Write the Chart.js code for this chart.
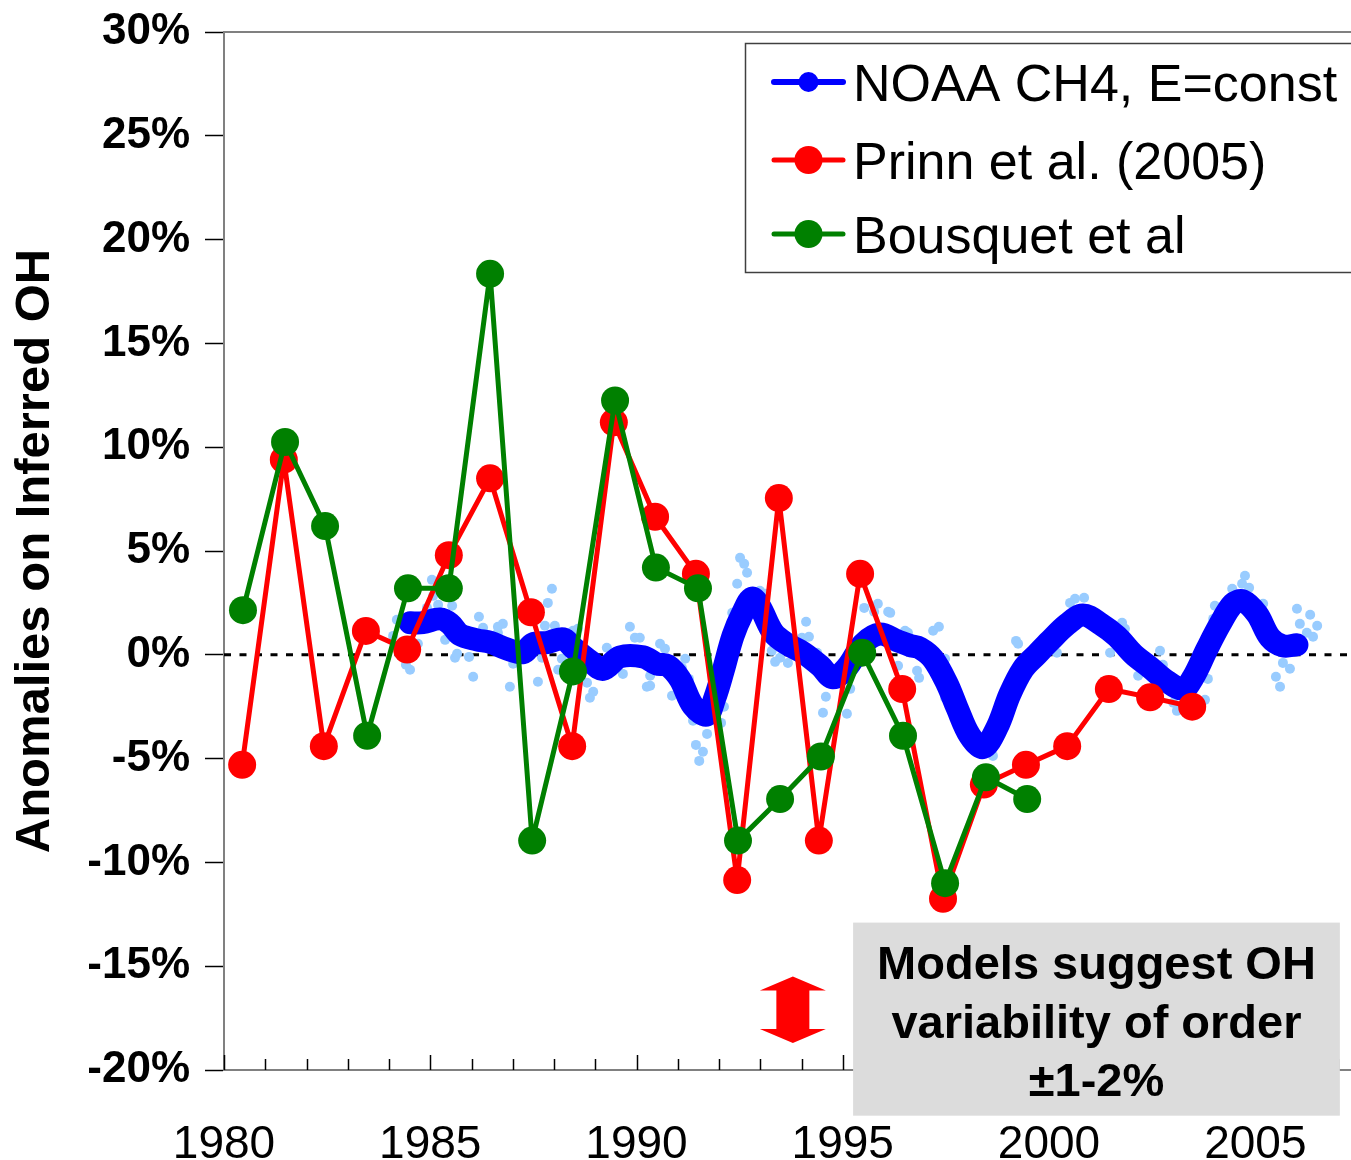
<!DOCTYPE html>
<html>
<head>
<meta charset="utf-8">
<script src="https://cdn.jsdelivr.net/npm/chart.js@4.4.1/dist/chart.umd.min.js"></script>
<style>
  html, body { margin: 0; padding: 0; background: #fff; overflow: hidden; }
  canvas { display: block; }
</style>
</head>
<body>
<canvas id="ohChart" width="1351" height="1160"></canvas>
<script>
// ---- data ----
var prinnYears = [1980.44, 1981.45, 1982.42, 1983.44, 1984.44, 1985.45, 1986.45, 1987.44, 1988.44, 1989.45, 1990.45, 1991.44,
                  1992.44, 1993.45, 1994.42, 1995.42, 1996.44, 1997.43, 1998.42, 1999.44, 2000.44, 2001.45, 2002.45, 2003.47];
var prinnValues = [-5.3, 9.4, -4.4, 1.15, 0.25, 4.8, 8.5, 2.05, -4.4, 11.2, 6.65, 3.9,
                   -10.85, 7.55, -8.95, 3.9, -1.65, -11.75, -6.25, -5.3, -4.4, -1.65, -2.05, -2.5];

var bousquetYears = [1980.46, 1981.48, 1982.45, 1983.47, 1984.46, 1985.45, 1986.45, 1987.47, 1988.46, 1989.48,
                     1990.47, 1991.49, 1992.46, 1993.48, 1994.47, 1995.47, 1996.46, 1997.48, 1998.47, 1999.47];
var bousquetValues = [2.15, 10.25, 6.2, -3.9, 3.2, 3.2, 18.35, -8.95, -0.8, 12.25,
                      4.2, 3.2, -8.95, -6.95, -4.9, 0.1, -3.9, -11.0, -5.9, -6.95];

// NOAA CH4 (E=const), smoothed curve
var noaaYears = [1984.51, 1984.82, 1985.24, 1985.48, 1985.72, 1986.13, 1986.45, 1986.86, 1987.25, 1987.49, 1987.83, 1988.22,
                 1988.46, 1988.87, 1989.19, 1989.6, 1990.16, 1990.5, 1990.74, 1991.05, 1991.37, 1991.71, 1991.9, 1992.1,
                 1992.34, 1992.58, 1992.8, 1992.99, 1993.31, 1993.65, 1994.04, 1994.45, 1994.76, 1995.1, 1995.49, 1995.9,
                 1996.32, 1996.63, 1996.87, 1997.19, 1997.53, 1997.77, 1998.08, 1998.4, 1998.74, 1999.05, 1999.37, 1999.71,
                 2000.02, 2000.44, 2000.82, 2001.24, 2001.65, 2002.04, 2002.45, 2002.86, 2003.25, 2003.49, 2003.83, 2004.15,
                 2004.46, 2004.7, 2005.04, 2005.36, 2005.67, 2006.01];
var noaaValues = [1.54, 1.55, 1.73, 1.5, 0.97, 0.72, 0.6, 0.28, 0.1, 0.53, 0.59, 0.77,
                  0.35, -0.3, -0.7, -0.1, -0.1, -0.45, -0.5, -1.16, -2.46, -2.9, -2.07, -0.77,
                  0.92, 2.04, 2.73, 2.31, 1.07, 0.52, 0.1, -0.53, -1.11, -0.61, 0.52, 1.0,
                  0.68, 0.45, 0.32, -0.2, -1.4, -2.55, -3.9, -4.47, -3.5, -1.9, -0.68, 0.03,
                  0.67, 1.47, 1.92, 1.5, 0.88, 0.03, -0.61, -1.28, -1.65, -1.1, 0.28, 1.49,
                  2.45, 2.6, 1.97, 0.82, 0.43, 0.48];

// NOAA monthly raw values (light blue dots)
var rawYears = [1984.10, 1984.19, 1984.41, 1984.51, 1984.70, 1984.92, 1985.04, 1985.07, 1985.19, 1985.36, 1985.53, 1985.60,
                1985.65, 1985.94, 1986.04, 1986.18, 1986.28, 1986.64, 1986.64, 1986.76, 1986.93, 1987.01, 1987.61, 1987.71,
                1987.78, 1987.85, 1987.95, 1988.02, 1988.10, 1988.19, 1988.46, 1988.58, 1988.80, 1988.87, 1988.95, 1989.28,
                1989.67, 1989.84, 1989.96, 1990.08, 1990.25, 1990.33, 1990.33, 1990.57, 1990.69, 1990.86, 1991.10, 1991.18,
                1991.27, 1991.37, 1991.44, 1991.52, 1991.61, 1991.71, 1992.05, 1992.12, 1992.32, 1992.44, 1992.51, 1992.61,
                1992.68, 1992.99, 1993.12, 1993.28, 1993.36, 1993.48, 1993.67, 1994.01, 1994.11, 1994.18, 1994.38, 1994.52,
                1994.59, 1995.10, 1995.18, 1995.52, 1995.76, 1995.85, 1996.10, 1996.15, 1996.34, 1996.51, 1996.58, 1996.80,
                1996.85, 1997.19, 1997.33, 1997.48, 1997.48, 1998.64, 1999.20, 1999.25, 2000.19, 2000.51, 2000.63, 2000.85,
                2001.48, 2001.77, 2001.84, 2002.16, 2002.69, 2002.76, 2003.01, 2003.10, 2003.78, 2003.85, 2003.98, 2004.02,
                2004.44, 2004.68, 2004.75, 2004.85, 2005.19, 2005.50, 2005.60, 2005.67, 2005.84, 2006.01, 2006.08, 2006.25,
                2006.33, 2006.40, 2006.50];
var rawValues = [0.91, 1.69, -0.48, -0.72, 0.53, 2.26, 3.61, 2.84, 2.41, 0.72, 2.36, -0.14,
                 0.05, -0.10, -1.06, 1.83, 1.30, 1.35, 1.06, 1.49, -1.54, -0.43, -1.30, -0.14,
                 1.40, 2.50, 3.18, 1.40, -0.72, -0.19, 1.16, 1.25, -1.35, -2.07, -1.78, 0.34,
                 -0.92, 1.35, 0.82, 0.82, -1.54, -1.01, -1.49, 0.53, 0.29, -1.97, -0.63, -0.19,
                 -1.16, -3.18, -4.34, -5.11, -4.67, -3.81, -3.28, -2.50, 2.02, 3.42, 4.67, 4.38,
                 3.95, 3.08, 2.94, 0.19, -0.34, -0.14, -0.39, 0.82, 1.59, 0.87, 0.10, -2.79,
                 -2.02, -2.84, -1.64, 2.26, 2.07, 2.46, 2.07, 2.02, -0.53, 1.16, 1.06, -0.77,
                 -1.11, 1.16, 1.35, -0.19, -2.07, -4.87, 0.67, 0.53, 0.10, 2.50, 2.70, 2.75,
                 0.10, 1.54, 1.25, -1.01, 0.19, -0.48, -2.31, -2.70, -2.17, -1.16, 1.73, 2.36,
                 3.18, 3.42, 3.81, 3.23, 2.46, -1.06, -1.54, -0.39, -0.67, 2.22, 1.49, 1.06,
                 1.93, 0.87, 1.40];

var xTickYears = [];
for (var yr = 1980; yr <= 2007; yr++) { xTickYears.push(yr); }
var xLabelYears = [1980, 1985, 1990, 1995, 2000, 2005];
var yTickValues = [-20, -15, -10, -5, 0, 5, 10, 15, 20, 25, 30];

var legendNames = ["NOAA CH4, E=const", "Prinn et al. (2005)", "Bousquet et al"];
var boxLines = ["Models suggest OH", "variability of order", "\u00b11-2%"];

function toPoints(xs, ys) {
    var pts = [];
    for (var i = 0; i < xs.length; i++) { pts.push({ x: xs[i], y: ys[i] }); }
    return pts;
}

var FONT = "'Liberation Sans', Arial, sans-serif";
Chart.defaults.font.family = FONT;
Chart.defaults.color = "#000";

var decor = {
    id: 'decor',
    beforeDatasetsDraw: function (chart) {
        var ctx = chart.ctx, a = chart.chartArea, xs = chart.scales.x, ys = chart.scales.y;
        ctx.save();
        // top frame line
        ctx.strokeStyle = "#808080"; ctx.lineWidth = 2;
        ctx.beginPath(); ctx.moveTo(a.left, a.top); ctx.lineTo(a.right, a.top); ctx.stroke();
        // x ticks pointing inwards
        ctx.strokeStyle = "#000"; ctx.lineWidth = 1.5;
        xTickYears.forEach(function (v) {
            var px = Math.round(xs.getPixelForValue(v)) + 0.5;
            var len = (v % 5 === 0) ? 15 : 11;
            ctx.beginPath(); ctx.moveTo(px, a.bottom); ctx.lineTo(px, a.bottom - len); ctx.stroke();
        });
        // dashed zero line
        var y0 = ys.getPixelForValue(0);
        ctx.setLineDash([7, 8.5]); ctx.lineWidth = 3; ctx.strokeStyle = "#000";
        ctx.beginPath(); ctx.moveTo(a.left, y0); ctx.lineTo(a.right, y0); ctx.stroke();
        ctx.restore();
    },
    afterDraw: function (chart) {
        var ctx = chart.ctx, xs = chart.scales.x, ys = chart.scales.y;
        ctx.save();

        // legend box
        ctx.fillStyle = "#fff"; ctx.strokeStyle = "#404040"; ctx.lineWidth = 1.5;
        ctx.fillRect(745, 43, 700, 229); ctx.strokeRect(745.5, 43.5, 700, 229);
        var rows = [82, 160, 234];
        var cols = ["#0000FF", "#FF0000", "#008000"];
        var rad = [10, 14, 14];
        for (var i = 0; i < 3; i++) {
            ctx.strokeStyle = cols[i]; ctx.lineWidth = (i === 0) ? 6 : 5; ctx.lineCap = "round";
            ctx.beginPath(); ctx.moveTo(774, rows[i]); ctx.lineTo(843, rows[i]); ctx.stroke();
            ctx.fillStyle = cols[i];
            ctx.beginPath(); ctx.arc(808.5, rows[i], rad[i], 0, Math.PI * 2); ctx.fill();
            ctx.fillStyle = "#000"; ctx.font = "52px " + FONT; ctx.textAlign = "left"; ctx.textBaseline = "alphabetic";
            ctx.fillText(legendNames[i], 853, rows[i] + 19);
        }

        // red double arrow
        var cx = xs.getPixelForValue(1993.79);
        var yT = ys.getPixelForValue(-15.5), yB = ys.getPixelForValue(-18.7);
        ctx.fillStyle = "#FF0000";
        ctx.beginPath();
        ctx.moveTo(cx, yT); ctx.lineTo(cx + 33, yT + 14); ctx.lineTo(cx + 16.5, yT + 14);
        ctx.lineTo(cx + 16.5, yB - 14); ctx.lineTo(cx + 33, yB - 14); ctx.lineTo(cx, yB);
        ctx.lineTo(cx - 33, yB - 14); ctx.lineTo(cx - 16.5, yB - 14); ctx.lineTo(cx - 16.5, yT + 14);
        ctx.lineTo(cx - 33, yT + 14); ctx.closePath(); ctx.fill();

        // grey note box
        var bx0 = xs.getPixelForValue(1995.25), bx1 = xs.getPixelForValue(2007.05);
        var by0 = ys.getPixelForValue(-12.9), by1 = ys.getPixelForValue(-22.2);
        ctx.fillStyle = "#DCDCDC";
        ctx.fillRect(bx0, by0, bx1 - bx0, by1 - by0);
        ctx.fillStyle = "#000"; ctx.font = "bold 47px " + FONT; ctx.textAlign = "center";
        var mid = (bx0 + bx1) / 2;
        ctx.fillText(boxLines[0], mid, by0 + 56);
        ctx.fillText(boxLines[1], mid, by0 + 115);
        ctx.fillText(boxLines[2], mid, by0 + 173);
        ctx.restore();
    }
};

var ctx = document.getElementById('ohChart');
var chart = new Chart(ctx, {
    type: 'line',
    data: {
        datasets: [
            { label: "raw", data: toPoints(rawYears, rawValues), showLine: false, pointRadius: 5,
              pointBackgroundColor: "#99CCFF", pointBorderWidth: 0, order: 4 },
            { label: legendNames[0], data: toPoints(noaaYears, noaaValues), borderColor: "#0000FF", borderWidth: 23,
              borderCapStyle: "round", borderJoinStyle: "round", tension: 0.35, pointRadius: 0, order: 3 },
            { label: legendNames[1], data: toPoints(prinnYears, prinnValues), borderColor: "#FF0000", borderWidth: 5,
              borderJoinStyle: "round", pointRadius: 14, pointBackgroundColor: "#FF0000", pointBorderWidth: 0, tension: 0, order: 2 },
            { label: legendNames[2], data: toPoints(bousquetYears, bousquetValues), borderColor: "#008000", borderWidth: 5,
              borderJoinStyle: "round", pointRadius: 14, pointBackgroundColor: "#008000", pointBorderWidth: 0, tension: 0, order: 1 }
        ]
    },
    options: {
        responsive: false,
        devicePixelRatio: 1,
        animation: false,
        events: [],
        layout: { autoPadding: false, padding: { top: 32, right: 0, bottom: 0, left: 0 } },
        plugins: { legend: { display: false }, tooltip: { enabled: false } },
        scales: {
            x: {
                type: 'linear',
                min: 1980,
                max: 2007.32,
                afterBuildTicks: function (s) { s.ticks = xTickYears.map(function (v) { return { value: v }; }); },
                afterFit: function (s) { s.height = 90; s.paddingLeft = 0; s.paddingRight = 0; },
                grid: { display: false },
                border: { display: true, color: "#808080", width: 2 },
                ticks: {
                    autoSkip: false, maxRotation: 0, padding: 40,
                    font: { size: 46 }, color: "#000",
                    callback: function (v) { return xLabelYears.indexOf(v) >= 0 ? String(v) : ""; }
                }
            },
            y: {
                min: -20,
                max: 30,
                afterBuildTicks: function (s) { s.ticks = yTickValues.map(function (v) { return { value: v }; }); },
                afterFit: function (s) { s.width = 224; s.paddingTop = 0; s.paddingBottom = 0; },
                grid: { display: true, drawOnChartArea: false, drawTicks: true, tickLength: 19, tickColor: "#000", tickWidth: 1.5 },
                border: { display: true, color: "#808080", width: 2 },
                ticks: {
                    padding: 15, font: { size: 44, weight: 'bold' }, color: "#000",
                    callback: function (v) { return v + "%"; }
                },
                title: {
                    display: true, text: "Anomalies on Inferred OH",
                    font: { size: 49, weight: 'bold' }, color: "#000",
                    padding: { top: 6, bottom: 0 }
                }
            }
        }
    },
    plugins: [decor]
});
</script>
</body>
</html>
